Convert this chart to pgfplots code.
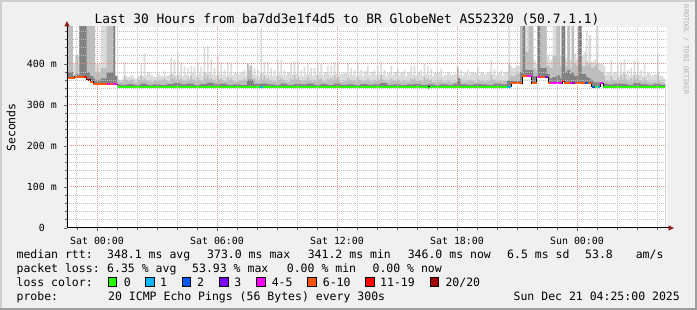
\documentclass[border=0pt]{standalone}
\usepackage{pgfplots}
\pgfplotsset{compat=1.18}
\usepackage{pgfplotstable}
\usepackage{fontspec}
\setmainfont{DejaVu Sans Mono}

\definecolor{bgc}{RGB}{240,240,240}
\definecolor{shA}{RGB}{207,207,207}
\definecolor{shB}{RGB}{158,158,158}
\definecolor{mgrid}{RGB}{235,140,140}
\definecolor{gridc}{RGB}{190,190,190}
\definecolor{smL}{RGB}{220,220,220}
\definecolor{smM}{RGB}{190,190,190}
\definecolor{smD}{RGB}{130,130,130}
\definecolor{lA}{RGB}{38,255,0}
\definecolor{lB}{RGB}{0,184,255}
\definecolor{lC}{RGB}{0,89,255}
\definecolor{lD}{RGB}{126,0,255}
\definecolor{lE}{RGB}{255,0,255}
\definecolor{lF}{RGB}{255,85,0}
\definecolor{lG}{RGB}{255,0,0}
\definecolor{lH}{RGB}{161,0,0}
\definecolor{arrowc}{RGB}{150,25,25}
\definecolor{wm}{RGB}{175,175,175}

% x unit: 10 minutes since Sat 00:00; y unit: ms
\pgfplotstableread{
s L M
-9 500 500
-7.2 400 372
-6.4 422 422
-5.6 400 372
-5.3 500 500
-3.1 500 500
-0.6 400 380
1.1 500 390
2.9 500 500
4.9 500 500
5.4 373 365
6.4 362 356
7 362 356
8 404 370
8.5 372 362
9 368 358
10 372 362
11 365 355
12 370 360
13 398 372
13.5 370 360
14 426 365
14.5 372 358
15 380 358
16 372 356
17 368 360
18 376 358
19 370 362
20 382 365
20.5 370 360
21 372 357
22 415 375
22.5 375 365
23 410 368
23.5 372 360
24 430 372
24.5 376 362
25 405 365
25.5 370 358
26 393 360
26.5 374 358
27 390 365
27.5 370 360
28 395 370
28.5 378 362
29 392 362
29.5 372 358
30 404 368
30.5 376 360
31 393 360
31.5 370 356
32 442 380
32.5 378 365
33 444 372
33.5 380 362
34 410 366
34.5 374 360
35 390 360
35.5 372 356
36 422 370
36.5 376 360
37 406 365
37.5 374 360
38 385 358
38.5 370 356
39 405 368
39.5 375 360
40 400 365
40.5 372 358
41 378 356
42 375 358
43 380 360
44 385 365
44.5 372 360
45 401 400
45.5 395 385
46 398 395
46.5 376 362
47 390 365
47.5 372 358
48 385 360
48.5 370 356
49 487 375
49.5 378 362
50 405 370
50.5 374 360
51 405 365
51.5 372 358
52 390 360
52.5 370 356
53 385 358
53.5 370 356
54 410 370
54.5 376 360
55 410 366
55.5 374 360
56 385 360
56.5 372 356
57 380 356
58 402 365
58.5 374 360
59 406 372
59.5 376 362
60 406 368
60.5 372 360
61 385 360
61.5 370 356
62 392 362
62.5 374 358
63 400 368
63.5 376 360
64 390 360
64.5 370 356
65 390 362
65.5 374 358
66 401 370
66.5 376 362
67 401 365
67.5 372 358
68 380 357
69 395 364
69.5 374 358
70 395 366
70.5 372 358
71 405 372
71.5 376 362
72 405 368
72.5 374 360
73 375 356
74 378 358
75 401 366
75.5 374 360
76 390 362
76.5 372 358
77 385 360
77.5 370 356
78 401 368
78.5 374 360
79 385 360
79.5 370 356
80 382 358
81 395 364
81.5 372 358
82 380 356
83 385 360
83.5 372 358
84 395 365
84.5 376 360
85 407 372
85.5 374 362
86 385 360
86.5 370 356
87 378 356
88 395 364
88.5 372 358
89 380 358
90 388 362
90.5 372 358
91 380 357
92 385 360
92.5 370 356
93 380 357
94 395 365
94.5 374 360
95 395 366
95.5 372 358
96 380 358
97 385 360
97.5 372 356
98 401 368
98.5 376 360
99 395 364
99.5 372 358
100 388 362
100.5 370 356
101 378 356
102 378 357
103 388 362
103.5 370 356
104 373 355
105 380 358
106 373 355
107 375 357
108 393 393
108.5 372 360
109 385 362
109.5 370 356
110 378 357
111 385 360
111.5 372 357
112 380 358
113 378 356
114 393 365
114.5 372 358
115 380 358
116 375 356
117 380 358
118 410 372
118.5 376 362
119 388 362
119.5 372 358
120 378 357
121 385 360
121.5 370 356
122 380 358
123 380 360
123.4 500 400
123.9 395 372
124.5 390 370
125.5 395 375
126.9 500 500
127.7 500 500
128.4 500 430
129.5 500 500
130.9 410 390
131.5 400 385
132.1 500 500
132.9 500 500
134.9 420 395
135.8 410 390
136.7 500 420
137.8 500 500
138.9 420 395
139.4 500 500
140.4 415 395
141.1 500 500
141.9 410 390
142.4 500 500
143.1 425 400
143.8 410 395
144.4 500 500
145.4 420 395
146 430 395
146.7 480 405
147.1 410 395
147.4 470 400
148.2 405 390
149 410 395
149.7 500 400
150.4 400 385
151 400 380
152 395 370
152.5 374 360
153 380 358
154 410 370
154.5 376 362
155 380 360
156 398 368
156.5 374 360
157 405 372
157.5 378 362
158 410 375
158.5 376 362
159 385 362
159.5 370 356
160 390 365
160.5 372 358
161 407 372
161.5 376 362
162 407 370
162.5 374 360
163 385 360
163.5 370 356
164 398 366
164.5 372 358
165 378 357
166 372 355
167 375 356
168 426 380
168.5 372 358
169 370 355
170 365 354
170.5 365 354
}\smokeLM

\pgfplotstableread{
s D
-9 380
-7.2 370
-6.4 375
-5.6 372
-5.3 500
-3.1 380
-2.1 370
-1.1 365
-0.6 360
1.1 365
2.9 380
4.9 500
5.4 370
6.1 350
7 349
9 351
11 348
13 352
15 349
17 350
19 348
21 351
23 353
25 350
27 352
29 349
31 351
33 354
35 350
37 352
39 349
41 350
43 348
45 362
47 351
49 352
51 350
53 349
55 352
57 348
59 351
61 350
63 352
65 349
67 351
69 348
71 352
73 349
75 350
77 348
79 351
81 349
83 350
85 353
87 349
89 350
91 348
93 350
95 351
97 349
99 350
101 348
103 350
105 349
107 352
108 365
109 350
111 349
113 351
115 350
117 349
119 352
121 350
123 358
123.4 360
123.9 358
126.9 380
127.7 500
128.4 385
129.5 385
130.9 370
132.1 500
132.9 390
134.9 375
135.8 365
136.7 368
137.8 372
138.9 365
139.4 500
140.4 380
141.1 385
141.9 375
142.4 380
143.1 370
144.4 500
145.4 375
146.7 368
147.4 365
148.2 360
149 355
150.4 355
151 355
152 352
153 350
155 352
157 351
159 349
161 353
163 350
165 349
167 351
169 349
170.5 349
}\smokeD

\pgfplotstableread{
s med
-9 366.7
-6.6 369
-3.1 361
-2.1 357
-1.1 352
6.1 344.6
99.3 341.5
99.8 344.6
122.9 344
124.2 352.8
127.6 371.5
130.4 352.8
131.9 368
135.4 352.8
139.6 358
140.1 352.8
148.4 344.6
150.9 352.8
151.9 344.6
170.5 344.6
}\median

\newcommand{\seg}[4]{\addplot[#4, line width=2pt, line cap=butt] coordinates {(#1,#3) (#2,#3)};}

\begin{document}
\begin{tikzpicture}
\fill[bgc] (0pt,0pt) rectangle (697pt,310pt);
\fill[shA] (0pt,0pt) rectangle (2pt,310pt);
\fill[shA] (0pt,308pt) rectangle (697pt,310pt);
\fill[shB] (695pt,0pt) rectangle (697pt,310pt);
\fill[shB] (0pt,0pt) rectangle (697pt,2pt);

\begin{axis}[
  at={(67pt,82pt)}, anchor=south west,
  scale only axis, width=600pt, height=201pt,
  xmin=-9, xmax=171, ymin=0, ymax=490,
  axis background/.style={fill=white},
  axis line style={draw=none},
  axis on top,
  xtick={0,36,72,108,144},
  xticklabels={Sat 00:00,Sat 06:00,Sat 12:00,Sat 18:00,Sun 00:00},
  minor xtick={-6,6,12,18,24,30,42,48,54,60,66,78,84,90,96,102,114,120,126,132,138,150,156,162,168},
  ytick={0,100,200,300,400},
  yticklabels={0\hphantom{xx},100 m,200 m,300 m,400 m},
  minor ytick={20,40,60,80,120,140,160,180,220,240,260,280,320,340,360,380,420,440,460,480},
  grid=both,
  major grid style={mgrid, line width=1pt, dash pattern=on 1pt off 1pt},
  minor grid style={gridc, line width=1pt, dash pattern=on 1pt off 1pt},
  tick pos=left, tick align=outside,
  major tick length=3pt, minor tick length=2pt,
  tick style={line width=0.8pt, color=black!60},
  xticklabel style={font=\fontsize{9.9}{10}\selectfont, anchor=base, inner sep=0pt, yshift=-13.3pt},
  yticklabel style={font=\fontsize{9.9}{10}\selectfont, anchor=east, inner sep=0pt, xshift=-7pt},
]
% smoke: filled to the bottom, then the part below the median is whitened again
\addplot[const plot, fill=smL, draw=none] table[x=s, y=L] {\smokeLM} \closedcycle;
\addplot[const plot, fill=smM, draw=none] table[x=s, y=M] {\smokeLM} \closedcycle;
\addplot[const plot, fill=smD, draw=none] table[x=s, y=D] {\smokeD} \closedcycle;
\addplot[const plot, fill=white, draw=none] table[x=s, y=med] {\median} \closedcycle;

% median line (black risers), then loss-coloured segments
\addplot[black, line width=1pt, const plot] table[x=s, y=med] {\median};
\seg{-9}{-6.6}{366.7}{lF}
\seg{-6.6}{-4.0}{369}{lF}
\seg{-4.0}{-3.1}{369}{lG}
\seg{-3.1}{-2.1}{361}{lH}
\seg{-2.1}{-1.1}{357}{lF}
\seg{-1.1}{2.9}{352}{lF}
\seg{2.9}{3.9}{352}{lE}
\seg{3.9}{4.9}{352}{lF}
\seg{4.9}{6.1}{352}{lE}
\seg{6.1}{48.9}{344.6}{lA}
\seg{48.9}{49.8}{344.6}{lB}
\seg{49.8}{99.3}{344.6}{lA}
\seg{99.3}{99.8}{341.5}{lA}
\seg{99.8}{122.9}{344.6}{lA}
\seg{122.9}{124.2}{344}{lB}
\seg{124.2}{127.6}{352.8}{lF}
\seg{127.6}{128.9}{371.5}{lF}
\seg{128.9}{130.4}{371.5}{lE}
\seg{130.4}{131.9}{352.8}{lF}
\seg{131.9}{133}{368}{lE}
\seg{133}{134.4}{368}{lF}
\seg{134.4}{135.4}{368}{lD}
\seg{135.4}{135.9}{352.8}{lF}
\seg{135.9}{139.6}{352.8}{lE}
\seg{139.6}{140.1}{358}{lG}
\seg{140.1}{141.9}{352.8}{lF}
\seg{141.9}{142.6}{352.8}{lE}
\seg{142.6}{143.4}{352.8}{lD}
\seg{143.4}{146.4}{352.8}{lF}
\seg{146.4}{147.4}{352.8}{lC}
\seg{147.4}{148.4}{352.8}{lF}
\seg{148.4}{149.4}{344.6}{lC}
\seg{149.4}{150}{344.6}{lA}
\seg{150}{150.9}{344.6}{lB}
\seg{150.9}{151.9}{352.8}{lE}
\seg{151.9}{170.5}{344.6}{lA}
\end{axis}

% axis lines and arrows
\draw[line width=1pt, black] (67pt,82pt) -- (67pt,285pt);
\draw[line width=1pt, black] (67pt,82pt) -- (670pt,82pt);
\fill[arrowc] (67pt,289pt) -- (64.3pt,283.5pt) -- (69.7pt,283.5pt) -- cycle;
\fill[arrowc] (674pt,82pt) -- (668.5pt,79.3pt) -- (668.5pt,84.7pt) -- cycle;

% title and axis label
\node[anchor=base, inner sep=0pt, font=\fontsize{12.9}{13}\selectfont] at (347pt,286.7pt) {Last 30 Hours from ba7dd3e1f4d5 to BR GlobeNet AS52320 (50.7.1.1)};
\node[rotate=90, inner sep=0pt, font=\fontsize{11.5}{12}\selectfont] at (11pt,182.5pt) {Seconds};
\node[rotate=-90, inner sep=0pt, color=wm, font=\fontsize{6.8}{7}\selectfont] at (686pt,260pt) {RRDTOOL / TOBI OETIKER};

% legend
\begin{scope}[every node/.style={anchor=base west, inner sep=0pt, font=\fontsize{11.5}{12}\selectfont}]
\node at (16.4pt,51.6pt) {median rtt:};
\node at (107pt,51.6pt) {348.1 ms avg};
\node at (207pt,51.6pt) {373.0 ms max};
\node at (307.6pt,51.6pt) {341.2 ms min};
\node at (407.6pt,51.6pt) {346.0 ms now};
\node at (507pt,51.6pt) {6.5 ms sd};
\node at (585pt,51.6pt) {53.8};
\node at (635.6pt,51.6pt) {am/s};

\node at (16.4pt,37.5pt) {packet loss:};
\node at (107pt,37.5pt) {6.35 \% avg};
\node at (192pt,37.5pt) {53.93 \% max};
\node at (286.7pt,37.5pt) {0.00 \% min};
\node at (372.4pt,37.5pt) {0.00 \% now};

\node at (16.4pt,23.5pt) {loss color:};
\node at (123.6pt,23.5pt) {0};
\node at (160pt,23.5pt) {1};
\node at (196.9pt,23.5pt) {2};
\node at (234.2pt,23.5pt) {3};
\node at (271.6pt,23.5pt) {4-5};
\node at (322.7pt,23.5pt) {6-10};
\node at (380pt,23.5pt) {11-19};
\node at (445.3pt,23.5pt) {20/20};

\node at (16.4pt,9.8pt) {probe:};
\node at (108pt,9.8pt) {20 ICMP Echo Pings (56 Bytes) every 300s};
\node[anchor=base east] at (680pt,9.8pt) {Sun Dec 21 04:25:00 2025};
\end{scope}
\foreach \bx/\bc in {108/lA,145.3/lB,182.2/lC,219.6/lD,256.4/lE,307.6/lF,365.3/lG,430.2/lH}{
  \filldraw[fill=\bc, draw=black, line width=0.8pt] (\bx pt,23.2pt) rectangle ++(8.6pt,9.4pt);
}
\end{tikzpicture}
\end{document}
